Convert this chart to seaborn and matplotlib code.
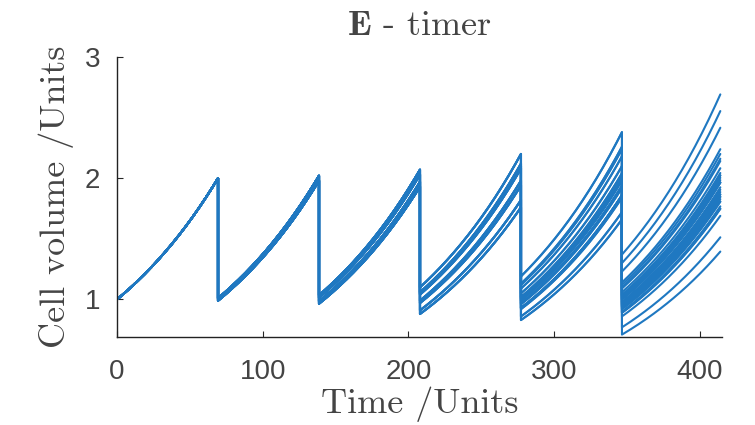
import numpy as np
import pandas as pd
import matplotlib
matplotlib.use("Agg")
import matplotlib.pyplot as plt
import seaborn as sns

# Timer model: every cell divides after a fixed period, daughters split the volume unevenly.
division_period = 69.3
t_end = 414.0

# Birth volumes per generation (children of cell i are at 2i and 2i+1 in the next generation)
gen0 = [1.00]
gen1 = [1.01, 0.99]
gen2 = [1.035, 0.985, 1.015, 0.965]
gen3 = [1.10, 0.97, 1.06, 0.91, 1.04, 0.99, 1.05, 0.88]
gen4 = [1.19, 1.01, 1.02, 0.92, 1.12, 1.00, 0.96, 0.86,
        1.09, 0.99, 1.05, 0.93, 1.13, 0.97, 0.93, 0.83]
gen5 = [1.37, 1.01, 1.09, 0.93, 1.12, 0.92, 0.95, 0.89,
        1.30, 0.94, 1.06, 0.94, 1.03, 0.89, 0.95, 0.77,
        1.14, 1.04, 1.00, 0.98, 1.10, 1.00, 1.00, 0.86,
        1.23, 1.03, 1.02, 0.92, 0.96, 0.90, 0.97, 0.71]
generations = [gen0, gen1, gen2, gen3, gen4, gen5]

x_ticks = [0, 100, 200, 300, 400]
y_ticks = [1, 2, 3]

# Build one continuous path per final cell, following its ancestry
rows = []
n_gen = len(generations)
n_leaf = len(generations[-1])
for leaf in range(n_leaf):
    for g in range(n_gen):
        idx = leaf >> (n_gen - 1 - g)
        b = generations[g][idx]
        t0 = g * division_period
        t1 = min((g + 1) * division_period, t_end)
        ts = np.linspace(t0, t1, 60)
        vs = b * 2.0 ** ((ts - t0) / division_period)
        for t, v in zip(ts, vs):
            rows.append((leaf, t, v))
df = pd.DataFrame(rows, columns=["lineage", "time", "volume"])

sns.set_style("ticks")
plt.rcParams["mathtext.fontset"] = "cm"
plt.rcParams["axes.unicode_minus"] = False

fig = plt.figure(figsize=(7.55, 4.25), dpi=100)
ax = fig.add_axes([0.155, 0.207, 0.801, 0.659])

sns.lineplot(data=df, x="time", y="volume", units="lineage", estimator=None,
             sort=False, color="#1f78c1", linewidth=1.5, ax=ax, legend=False)

ax.set_xlim(0, 415)
ax.set_ylim(0.69, 3)
ax.set_xticks(x_ticks)
ax.set_yticks(y_ticks)
ax.tick_params(direction="in", length=4, width=0.8, labelsize=20,
               labelcolor="#444444")
ax.tick_params(axis="x", pad=16)
ax.tick_params(axis="y", pad=12)
for lab in ax.get_xticklabels() + ax.get_yticklabels():
    lab.set_family("Liberation Sans")
sns.despine(ax=ax)
for s in ("left", "bottom"):
    ax.spines[s].set_linewidth(1.0)
    ax.spines[s].set_color("#222222")

serif = dict(family="cmr10", size=26, color="#444444")
ax.set_xlabel("Time /Units", fontdict=serif, labelpad=1)
ax.set_ylabel("Cell volume /Units", fontdict=serif, labelpad=8)
ax.set_title(r"$\mathbf{E}$ - timer", fontdict=serif, pad=16)

fig.savefig("out.png", dpi=100)
